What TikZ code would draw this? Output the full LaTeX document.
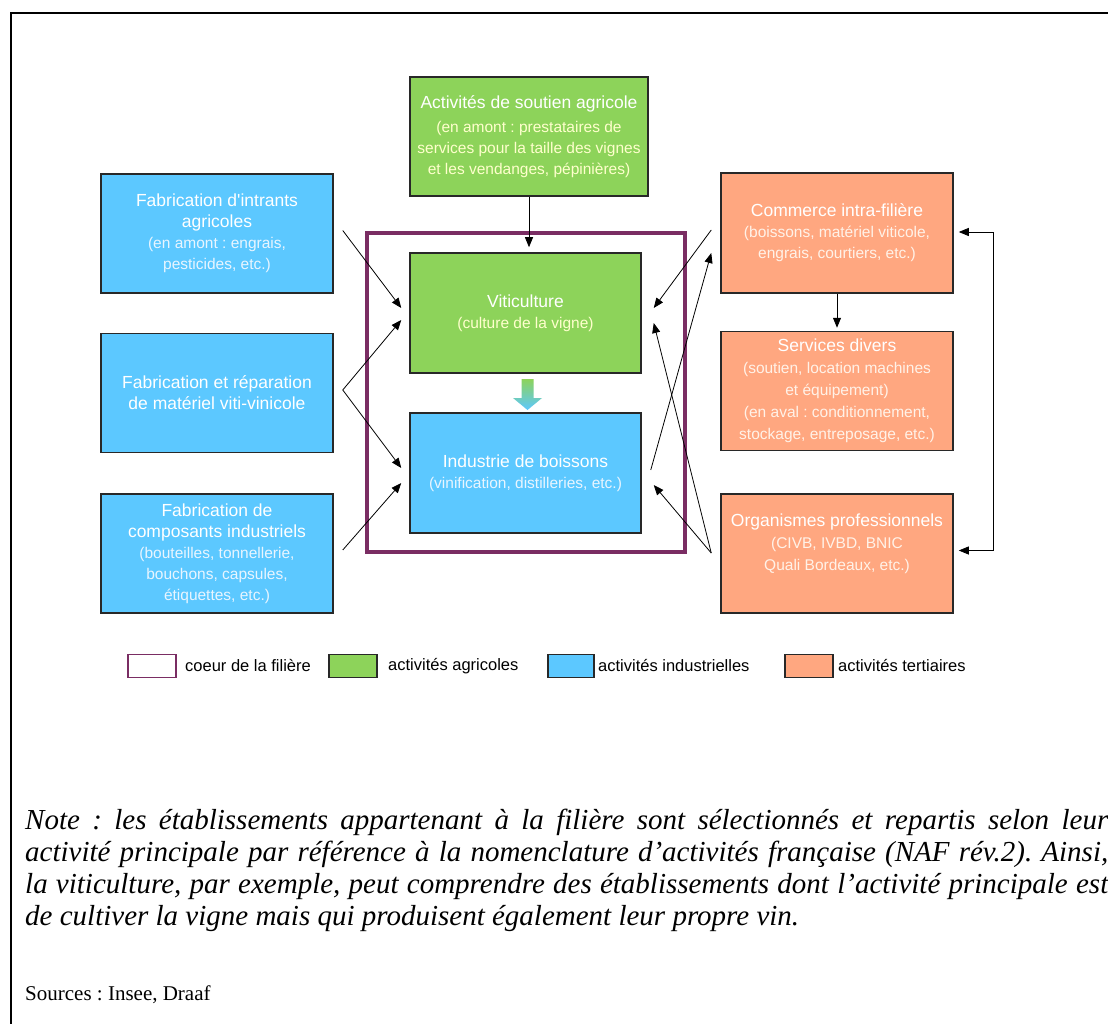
\documentclass[tikz,border=0pt]{standalone}
\usepackage{fontspec}
\setmainfont{Liberation Serif}
\newfontfamily\boxfont{Liberation Sans}
\usetikzlibrary{arrows.meta,calc}
\definecolor{agrigreen}{RGB}{141,211,90}
\definecolor{indblue}{RGB}{92,200,255}
\definecolor{terorange}{RGB}{255,167,128}
\definecolor{corepurple}{RGB}{122,45,99}
\definecolor{bordercol}{RGB}{40,40,40}
\definecolor{subgreen}{RGB}{255,255,205}
\definecolor{subblue}{RGB}{232,245,255}
\definecolor{suborange}{RGB}{255,242,232}
\newcommand{\ttl}[1]{{\fontsize{17.5}{20}\selectfont #1}}
\frenchspacing
\tikzset{
  box/.style={draw=bordercol, line width=1.5, minimum width=232, minimum height=119,
    inner sep=0, align=center, text=white, font=\boxfont\fontsize{15.5}{21}\selectfont},
  arr/.style={-{Triangle[length=10pt,width=8pt]}, line width=0.8, black},
  arrboth/.style={{Triangle[length=10pt,width=8pt]}-{Triangle[length=10pt,width=8pt]}, line width=0.8, black},
  legbox/.style={draw=bordercol, line width=1.2, minimum width=48, minimum height=23, inner sep=0},
  legtext/.style={anchor=west, inner sep=0, font=\boxfont\fontsize{16.5}{18}\selectfont}
}
\begin{document}
\begin{tikzpicture}[x=1pt,y=-1pt]
\useasboundingbox (0,0) rectangle (1108,1024);
\fill[white] (0,0) rectangle (1108,1024);
\draw[line width=2.5] (11,1024) -- (11,13) -- (1108,13);

% core frame
\draw[corepurple, line width=4.5] (367,233) rectangle (685,552);

% top box
\node[box, fill=agrigreen, minimum width=238] (soutien) at (529,136.5)
  {\ttl{Activités de soutien agricole}\\[3pt]\textcolor{subgreen}{(en amont : prestataires de}\\\textcolor{subgreen}{services pour la taille des vignes}\\\textcolor{subgreen}{et les vendanges, pépinières)}};

% left boxes
\node[box, fill=indblue] (L1) at (217,233.5)
  {\ttl{Fabrication d'intrants}\\\ttl{agricoles}\\\textcolor{subblue}{(en amont : engrais,}\\\textcolor{subblue}{pesticides, etc.)}};
\node[box, fill=indblue] (L2) at (217,393)
  {\ttl{Fabrication et réparation}\\\ttl{de matériel viti-vinicole}};
\node[box, fill=indblue] (L3) at (217,553.5)
  {\ttl{Fabrication de}\\\ttl{composants industriels}\\\textcolor{subblue}{(bouteilles, tonnellerie,}\\\textcolor{subblue}{bouchons, capsules,}\\\textcolor{subblue}{étiquettes, etc.)}};

% core boxes
\node[box, fill=agrigreen, minimum width=231, minimum height=120] (V) at (525.5,313)
  {\ttl{Viticulture}\\\textcolor{subgreen}{(culture de la vigne)}};
\node[box, fill=indblue, minimum width=231, minimum height=120] (I) at (525.5,473)
  {\ttl{Industrie de boissons}\\\textcolor{subblue}{(vinification, distilleries, etc.)}};

% right boxes
\node[box, fill=terorange, minimum height=120] (R1) at (837,233)
  {\ttl{Commerce intra-filière}\\\textcolor{suborange}{(boissons, matériel viticole,}\\\textcolor{suborange}{engrais, courtiers, etc.)}};
\node[box, fill=terorange, font=\boxfont\fontsize{15.5}{22}\selectfont] (R2) at (837,391)
  {\ttl{Services divers}\\\textcolor{suborange}{(soutien, location machines}\\\textcolor{suborange}{et équipement)}\\\textcolor{suborange}{(en aval : conditionnement,}\\\textcolor{suborange}{stockage, entreposage, etc.)}};
\node[box, fill=terorange, font=\boxfont\fontsize{15.5}{22}\selectfont] (R3) at (837,553.5)
  {\ttl{Organismes professionnels}\\\textcolor{suborange}{(CIVB, IVBD, BNIC}\\\textcolor{suborange}{Quali Bordeaux, etc.)}\\~};

% gradient arrow
\shade[top color=agrigreen, bottom color=indblue]
  (521.5,379) -- (533.5,379) -- (533.5,398) -- (542,398) -- (527.5,410) -- (513,398) -- (521.5,398) -- cycle;

% free ends
\coordinate (l1s) at ($(L1.east)+(9,-3)$);
\coordinate (l2s) at ($(L2.east)+(9,-3)$);
\coordinate (l3s) at ($(L3.east)+(9,-3.5)$);
\coordinate (r1s) at ($(R1.west)+(-9,-3)$);
\coordinate (r3s) at ($(R3.west)+(-9,-0.5)$);
\coordinate (is) at ($(I.east)+(9,-3)$);

% left arrows
\draw[arr] (l1s) -- ($(V.west)+(-8,-5)$);
\draw[arr] (l2s) -- ($(V.west)+(-8,7)$);
\draw[arr] (l2s) -- ($(I.west)+(-8,-5)$);
\draw[arr] (l3s) -- ($(I.west)+(-8,10)$);

% right arrows
\draw[arr] (r1s) -- ($(V.east)+(12,-5)$);
\draw[arr] (is) -- ($(R1.west)+(-9,20)$);
\draw[arr] (r3s) -- ($(V.east)+(12,10)$);
\draw[arr] (r3s) -- ($(I.east)+(12,12)$);

% vertical arrows
\draw[arr] (soutien.south) -- ($(soutien.south |- V.north)+(0,-5)$);
\draw[arr] (R1.south) -- ($(R2.north)+(0,-3)$);
\draw[arrboth] ($(R3.east)+(5,-3)$) -- ++(35,0) |- ($(R1.east)+(5,-1)$);

% legend
\node[legbox, draw=corepurple, fill=white] (lg1) at (152,666) {};
\node[legtext] (lt1) at (185,666) {coeur de la filière};
\node[legbox, fill=agrigreen] (lg2) at (353,666) {};
\node[legtext] (lt2) at (388,666) {activités agricoles};
\node[legbox, fill=indblue, minimum width=46] (lg3) at (571,666) {};
\node[legtext] (lt3) at (598,666) {activités industrielles};
\node[legbox, fill=terorange] (lg4) at (809,666) {};
\node[legtext] (lt4) at (838,666) {activités tertiaires};

% note
\node[anchor=north west, inner sep=0, text width=1083, align=justify,
  font=\fontsize{29}{32}\selectfont\itshape] (note) at (25,809)
  {Note : les établissements appartenant à la filière sont sélectionnés et repartis selon leur\linebreak
   activité principale par référence à la nomenclature d’activités française (NAF rév.2). Ainsi,\linebreak
   la viticulture, par exemple, peut comprendre des établissements dont l’activité principale est\linebreak
   de cultiver la vigne mais qui produisent également leur propre vin.};
\node[anchor=base west, inner sep=0, font=\fontsize{21}{24}\selectfont] (src) at (25,1000)
  {Sources : Insee, Draaf};
\end{tikzpicture}
\end{document}
